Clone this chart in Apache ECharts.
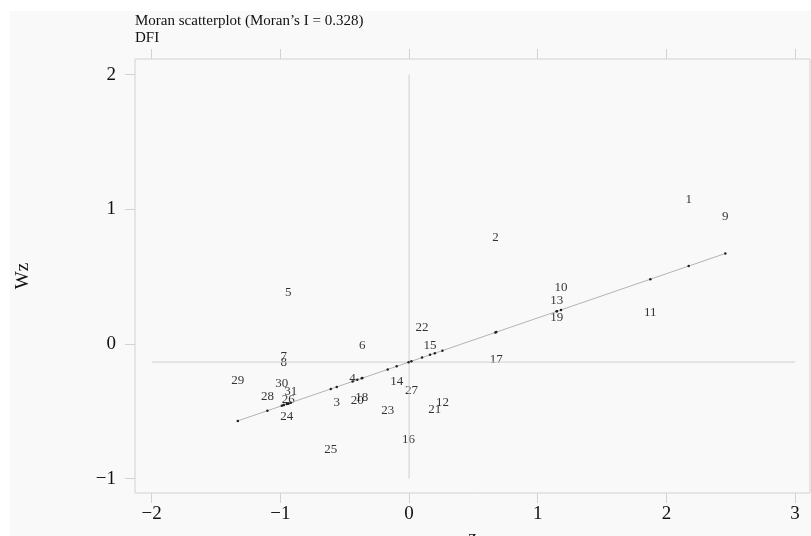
<!DOCTYPE html>
<html>
<head>
<meta charset="utf-8">
<script src="https://cdn.jsdelivr.net/npm/echarts@6/dist/echarts.min.js"></script>
<style>
    html, body { margin: 0; padding: 0; background: #fff; }
    #chart { position: absolute; left: 10px; top: 11px; width: 801px; height: 525px; background: #f9f9f9; }
</style>
</head>
<body>
<div id="chart"></div>
<script>
// region ids and their (z, Wz) coordinates
const regionIds = [1, 2, 3, 4, 5, 6, 7, 8, 9, 10, 11, 12, 13, 14, 15, 16,
    17, 18, 19, 20, 21, 22, 23, 24, 25, 26, 27, 28, 29, 30, 31];
const zValues = [2.173, 0.671, -0.562, -0.439, -0.938, -0.363, -0.974, -0.974, 2.458, 1.181,
    1.875, 0.259, 1.148, -0.096, 0.163, -0.004, 0.678, -0.368, 1.148, -0.402,
    0.200, 0.101, -0.166, -0.950, -0.608, -0.938, 0.018, -1.101, -1.331, -0.989, -0.919];
const wzValues = [1.076, 0.787, -0.431, -0.260, 0.381, -0.013, -0.094, -0.136, 0.945, 0.418,
    0.235, -0.436, 0.321, -0.280, -0.013, -0.708, -0.114, -0.396, 0.198, -0.423,
    -0.490, 0.124, -0.495, -0.535, -0.780, -0.411, -0.349, -0.391, -0.272, -0.292, -0.354];

const xTicks = [-2, -1, 0, 1, 2, 3];
const yTicks = [-1, 0, 1, 2];
const moransI = 0.328;
const meanWz = -0.134;

const serif = 'Liberation Serif';
const frameColor = '#d2d2d2';
const txtColor = '#111';

function fmtNum(v) {
    return v < 0 ? '\u2212' + (-v) : String(v);
}

let labelData = regionIds.map((id, i) => ({ name: String(id), value: [zValues[i], wzValues[i]] }));

// fitted line through each z
let fitData = zValues.slice().sort((a, b) => a - b).map(z => [z, meanWz + moransI * z]);

let chart = echarts.init(document.getElementById('chart'), null, { renderer: 'canvas' });

let tickStyle = { show: true, length: 10, lineStyle: { color: frameColor } };

let option = {
    animation: false,
    backgroundColor: '#f9f9f9',
    title: {
        text: 'Moran scatterplot (Moran\u2019s I = 0.328)\nDFI',
        left: 125,
        top: 2,
        padding: 0,
        textStyle: {
            fontFamily: serif,
            fontSize: 15,
            fontWeight: 'normal',
            color: txtColor,
            lineHeight: 17
        }
    },
    grid: {
        left: 125,
        right: 1,
        top: 48,
        bottom: 43,
        outerBoundsMode: 'none',
        containLabel: false,
        show: true,
        borderColor: frameColor,
        borderWidth: 1,
        backgroundColor: '#f9f9f9'
    },
    xAxis: [{
        type: 'value',
        min: -2.13,
        max: 3.116,
        name: 'z',
        nameLocation: 'middle',
        nameGap: 34,
        nameTextStyle: { fontFamily: serif, fontSize: 19, color: txtColor },
        axisLine: { show: false, onZero: false },
        splitLine: { show: false },
        axisTick: Object.assign({ customValues: xTicks }, tickStyle),
        axisLabel: {
            customValues: xTicks,
            formatter: fmtNum,
            margin: 12,
            fontFamily: serif,
            fontSize: 19,
            color: txtColor
        }
    }, {
        type: 'value',
        position: 'top',
        min: -2.13,
        max: 3.116,
        axisLine: { show: false, onZero: false },
        splitLine: { show: false },
        axisTick: Object.assign({ customValues: xTicks }, tickStyle),
        axisLabel: { show: false }
    }],
    yAxis: {
        type: 'value',
        min: -1.106,
        max: 2.116,
        name: 'Wz',
        nameLocation: 'middle',
        nameGap: 102,
        nameTextStyle: { fontFamily: serif, fontSize: 19, color: txtColor },
        axisLine: { show: false, onZero: false },
        splitLine: { show: false },
        axisTick: Object.assign({ customValues: yTicks }, tickStyle),
        axisLabel: {
            customValues: yTicks,
            formatter: fmtNum,
            margin: 19,
            fontFamily: serif,
            fontSize: 19,
            color: txtColor
        }
    },
    series: [
        {
            type: 'line',
            data: [[0, yTicks[0]], [0, yTicks[yTicks.length - 1]]],
            symbol: 'none',
            silent: true,
            lineStyle: { color: '#cfcfcf', width: 1 }
        },
        {
            type: 'line',
            data: [[xTicks[0], meanWz], [xTicks[xTicks.length - 1], meanWz]],
            symbol: 'none',
            silent: true,
            lineStyle: { color: '#cfcfcf', width: 1 }
        },
        {
            type: 'line',
            data: fitData,
            symbol: 'circle',
            symbolSize: 2.5,
            showAllSymbol: true,
            itemStyle: { color: '#222' },
            lineStyle: { color: '#b4b4b4', width: 1 }
        },
        {
            type: 'scatter',
            data: labelData,
            symbolSize: 0,
            label: {
                show: true,
                position: 'inside',
                formatter: p => p.name,
                fontFamily: serif,
                fontSize: 13,
                color: '#000'
            }
        }
    ]
};

chart.setOption(option);
</script>
</body>
</html>
